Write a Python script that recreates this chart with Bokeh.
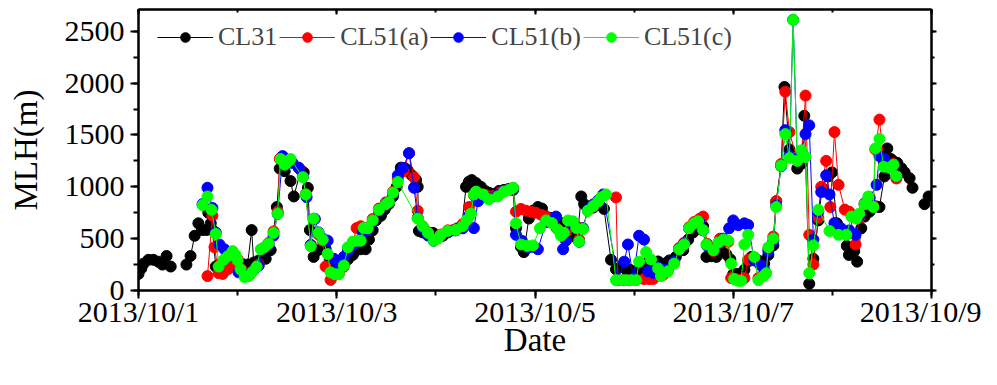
import numpy as np
from bokeh.plotting import figure
from bokeh.models import Range1d, FixedTicker, LinearAxis
from bokeh.embed import file_html
from bokeh.resources import INLINE

# x: hours since 2013/10/1 00:00 ; y: MLH (m). None = gap in record
cl31_hours = [0, 0.7, 1.2, 2.4, 3.6, 4.8, 5.8, 6.8, 7.8, 9.5,
              11.6, 12.6, 13.6, 14.5, 15.5, 16.5, 16.9, 17.5, 17.9, 18.7, 19.6, 20.8, 21.8, 23.5, 25, 26.4,
              27.4, 27.9, 29.1, 30.8, 32, 33.5, 34.2, 35.4, 36.8, 37.6, 39.3, 40, 41, 41.5, 42.4, 43.4, 44.4,
              45.3, 46.3, 47.3, 48.5, 49.5, 50.7, 51.9, 52.8, 53.8, 55, 55.8, 56.7, 57.5, 58.7, 59.6, 60.6,
              61.6, 62.5, 63.5, 64.5, 65.2, 66.2, 67.2, 67.6, 67.9, 68.8, 70.1, 71.3, 72.5, 73.7, 74.9, 76.1,
              77.3, 78.3, 79.3, 80, 80.7, 81.7, 82.9, 83.9, 84.8, 86, 87.3, 88.5, 89.7, 90.7, 91.4, 92.6, 93.3,
              94.5, 95.5, 96.7, 97.7, 98.7, 99.9, 101.1, 102.3, 103.5, 104.5, 105.2, 106.2, 107.2, 107.9, 108.8,
              110.1, 111.3, 112.7, 114.4, 115.6, 116.8, 118, 119, 120, 121, 121.9, 122.9, 123.6, 124.6, 125.8,
              127.3, 128.5, 130.1, 131.9, 133.1, 134.3, 135.5, 136.7, 137.5, 138.7, 139.9, 141.1, 142.3, 143.3,
              144, 144.7, 145.5, 146.7, 147.6, 148.4, 149.6, 150.8, 151.5, 152.5, 153.7, 154.4, 155.6, 156.4,
              157.6, 159.5, 160.5, 161.2, 162.4, 163.4, 164.6, 165.5, 167, 167.9, 169.1, 170.3, 171.5, 172,
              173.3, 174, 175, 175.8, 177, 177.7, 178.7, 179.4, 180.6, 181.3, 182.2, 183, 183.7, 184.7, 185.5,
              186.7, 187.4, 189, 190.3, 191.3]
cl31_mlh = [160, 213, 259, 296, 296, 278, 250, 333, 231, None,
            250, 333, 528, 648, 583, 583, 750, 648, 583, 231, 250, 260, 231, 250, 259, 250,
            583, 270, 290, 306, 389, 805, 1176, 1150, 1056, 907, 1160, 1139, 990, 583, 324, 389, 398,
            398, 300, 213, 250, 250, 300, 343, 389, 398, 398, 491, 580, 676, 720, 780, 833,
            907, 1000, 1185, 1180, 1157, 1110, 1065, 1000, 574, 560, 560, 555, 528, 528, 560, 580,
            600, 620, 1000, 1050, 1065, 1037, 1000, 960, 944, 930, 960, 970, 980, 970, 600, 420, 370,
            694, 770, 805, 790, 713, 700, 690, 650, 600, 580, 555, 500, 907, 833, 790,
            800, 830, 787, 296, 204, 230, 204, 200, 167, 180, 200, 230, 280, 250, 280,
            259, 290, 324, 389, 491, 560, 600, 620, 324, 330, 324, 380, 350, 300,
            157, 160, 157, 200, 280, 324, 300, 280, 259, 343, 435, 861, 1204, 1963,
            1361, 1176, 1222, 1685, 65, 306, 676, 991, 1100, 1139, 648, 560, 430, 343,
            380, 278, 600, 713, 760, 805, 810, 805, 1100, 1370, 1268, 1240, 1231, 1180, 1139,
            1083, 991, None, 833, 907]

cl51a_hours = [16.7, 17.9, 18.4, 19.4, 20.4, 21.6, 22.8, 24, 25, 25.9, 26.9, 27.9, 29.1, 30.1, 31.5, 32.7,
               33.7, 34.2, 35.4, 36.8, 38.8, 39.8, 40.5, 41.7, 42.4, 43.6, 44.6, 45.3, 46.5, 47.5, 48.5,
               49.7, 50.7, 51.9, 52.8, 53.8, 55, 56.7, 58.2, 59.9, 61.6, 62.8, 64.2, 65.5, 66.7, 67.6,
               68.8, 70.1, 71.5, 73.2, 74.9, 76.8, 78.5, 80, 81.2, 82.4, 84.1, 85.8, 87.8, 89.7, 90.7,
               91.4, 92.6, 93.8, 95, 96.2, 97.5, 98.7, 99.9, 101.3, 102.3, 103.5, 104.7, 106, 106.7,
               107.6, 108.8, 110.1, 111.3, 112.7, 115.6, 116.1, 117.3, 118.8, 120.5, 122.4, 123.6, 124.6,
               125.8, 127, 128.2, 129.7, 130.9, 132.1, 133.3, 134.5, 135.8, 136.7, 137.7, 139.2, 140.8,
               141.6, 142.8, 143.5, 144.7, 146.7, 147.6, 149.1, 150.1, 151.5, 152.5, 153.7, 154.4, 155.6,
               156.6, 157.6, 159.5, 160.5, 161.5, 162.4, 163.4, 164.6, 165.3, 166.5, 167.5, 168.5, 169.5,
               171, 172.1, 173.6, 174.5, 175.8, 177, 177.9, 178.4, 179.4, 180.4, 181.8, 182.8, 183.5]
cl51a_mlh = [139, 722, 417, 167, 160, 204, 250, 300, 200, 160, 150, 200, 250, 400, 460, 570,
             760, 1270, 1230, 1250, 1180, 1100, 930, 440, 690, 540, 480, 231, 102, 150, 160,
             230, 400, 460, 602, 620, 600, 690, 790, 850, 950, 1080, 1150, 1324, 1093, 769,
             620, 560, 500, 540, 580, 590, 640, 805, 920, 940, 920, 910, 950, 980, 990,
             760, 787, 770, 760, 750, 730, 713, 690, 600, 540, 560, 660, 620, 490,
             600, 770, 810, 860, 920, 898, 100, 100, 100, 100, 111, 111, 111,
             200, 150, 190, 270, 410, 460, 610, 660, 690, 713, 450, 380, 500,
             480, 470, 120, 110, 120, 296, 300, 120, 150, 400, 520, 861, 1220,
             1917, 1528, 1260, 1300, 1880, 537, 250, 700, 1000, 1250, 805, 1528, 1019,
             780, 759, 444, 700, 830, 900, 820, 1360, 1648, 1250, 1200, 1220, 1080]

cl51b_hours = [15.5, 16.7, 17.9, 18.7, 19.6, 20.8, 21.8, 23, 24.2, 25.5, 26.7, 27.9, 29.1, 30.1, 31.5, 32.7,
               33.7, 34.9, 36.1, 37.3, 38.8, 39.8, 40.7, 41.7, 42.7, 43.6, 44.6, 45.8, 47.3, 48.5, 49.7,
               50.7, 51.9, 53.1, 54.3, 55.5, 56.7, 58.2, 59.9, 61.6, 62.8, 64, 65.5, 66.7, 67.6, 68.8,
               70.1, 71.5, 73.2, 74.9, 76.8, 78.5, 80, 81.2, 82.2, 83.4, 84.8, 87, 88.5, 89.7, 90.7,
               91.4, 92.8, 94.5, 95.7, 96.7, 98.7, 101.1, 102.3, 102.8, 103.5, 104.7, 106, 106.7, 107.6,
               108.8, 110.1, 111.3, 112.5, 116.1, 117.6, 118.5, 119.8, 121.2, 122.4, 123.4, 124.6, 125.8,
               127, 128.2, 129.7, 130.9, 132.1, 133.3, 134.5, 135.8, 136.7, 137.7, 139.2, 140.8, 141.6,
               143, 144, 145.2, 146.7, 147.6, 149.1, 150.5, 151.5, 152.5, 153.7, 154.4, 155.6, 156.6,
               157.6, 158.5, 159.5, 160.5, 161.5, 162.4, 163.4, 164.6, 165.3, 166.5, 167.3, 168.5, 170.1,
               172.1, 173.6, 174.5, 175.8, 177, 178.7, 179.4, 180.6, 181.8, 182.8, 183.5]
cl51b_mlh = [833, 991, 796, 560, 444, 398, 330, 330, 176, 160, 150, 200, 240, 400, 440, 530,
             740, 1296, 1250, 1230, 1185, 1100, 900, 440, 690, 560, 500, 481, 306, 250, 324,
             380, 440, 470, 560, 580, 660, 770, 840, 930, 1111, 1180, 1324, 991, 700, 600,
             530, 480, 530, 570, 580, 600, 720, 602, 861, 900, 890, 920, 960, 975, 985,
             537, 480, 417, 420, 398, 660, 713, 560, 398, 481, 650, 610, 470, 600,
             780, 830, 870, 926, 100, 278, 444, 120, 528, 491, 185, 170, 220,
             200, 200, 280, 400, 450, 600, 640, 660, 580, 430, 400, 470, 500,
             600, 676, 630, 648, 632, 290, 250, 200, 380, 480, 820, 1200, 1546,
             1300, 2611, 1260, 1340, 1509, 1593, 491, 760, 950, 1111, 926, 650, 600,
             580, 537, 720, 840, 890, 1019, 1296, 1268, 1200, 1210, 1100]

cl51c_hours = [15.5, 16.7, 17.7, 18.7, 19.4, 20.6, 21.6, 22.8, 23.5, 24, 24.7, 25.7, 26.7, 27.6, 28.6, 29.6,
               30.5, 31.5, 32.7, 33.7, 34.4, 35.4, 36.1, 36.8, 39.8, 40.5, 41.7, 42.4, 43.6, 44.6, 45.8,
               46.5, 47.5, 48.5, 49.7, 50.7, 51.9, 53.1, 53.8, 54.5, 55.5, 56.7, 58.2, 59.9, 60.6, 61.6,
               62.8, 67.6, 68.8, 70.1, 71.5, 72.5, 73.2, 74.9, 76.8, 78.5, 79.5, 80.5, 81.2, 81.7, 83.4,
               84.8, 87, 88.5, 89.7, 90.7, 91.4, 92.6, 94.1, 95.5, 97.2, 98.7, 100.1, 101.6, 102.3, 103,
               104, 105.2, 106, 106.7, 107.6, 108.8, 110.1, 111.3, 112, 113.2, 115.6, 116.8, 118, 119.3,
               120.5, 121.2, 122.9, 124.1, 125.8, 126.5, 128.2, 129.7, 130.9, 132.1, 133.3, 134.5, 135.5,
               136.7, 137.5, 139.2, 140.4, 141.6, 142.8, 143.5, 144.2, 145.2, 145.9, 146.7, 147.6, 149.1,
               150.1, 151.3, 152, 152.5, 153.7, 154.4, 155.6, 156.6, 157.6, 158.5, 159.5, 160.5, 161.5,
               162.4, 163.4, 164.6, 167.3, 169.5, 171.4, 172.6, 173.8, 174.5, 175.8, 176.7, 177.9, 178.4,
               179.4, 180.4, 181.8, 182.8, 183.5]
cl51c_mlh = [824, 907, 778, 546, 231, 296, 330, 380, 340, 290, 204, 130, 139, 180, 231, 398,
             420, 454, 555, 741, 1268, 1213, 1240, 1268, 1093, 926, 426, 694, 555, 491, 352,
             175, 157, 157, 241, 417, 472, 481, 481, 602, 600, 676, 778, 833, 852, 944,
             1046, 694, 620, 555, 481, 500, 537, 574, 583, 620, 680, 741, 926, 954, 926,
             880, 907, 954, 970, 991, 648, 444, 430, 435, 600, 676, 650, 583, 528, 555,
             676, 667, 602, 472, 593, 769, 815, 860, 898, 926, 100, 100, 100, 100,
             100, 278, 370, 300, 213, 139, 185, 259, 398, 444, 602, 648, 667,
             583, 444, 389, 463, 491, 481, 259, 111, 93, 93, 444, 537, 324,
             100, 139, 167, 417, 500, 805, 1204, 1509, 1278, 2611, 1250, 1352, 1287,
             167, 435, 778, 574, 537, 537, 713, 694, 741, 833, 907, 805, 1370,
             1463, 1194, 1185, 1213, 1102]

series_names = ["CL31", "CL51(a)", "CL51(b)", "CL51(c)"]
series_colors = ["black", "#FF0000", "#0000FF", "#00FF00"]
series_hours = [cl31_hours, cl51a_hours, cl51b_hours, cl51c_hours]
series_mlh = [cl31_mlh, cl51a_mlh, cl51b_mlh, cl51c_mlh]

tick_days = [0, 2, 4, 6, 8]
tick_labels = ["2013/10/1", "2013/10/3", "2013/10/5", "2013/10/7", "2013/10/9"]
y_ticks = [0, 500, 1000, 1500, 2000, 2500]

FONT = "Liberation Serif"

p = figure(width=981, height=369, output_backend="svg", toolbar_location=None,
           x_range=Range1d(0, 8), y_range=Range1d(0, 2710),
           min_border_left=138, min_border_right=50, min_border_top=9, min_border_bottom=79,
           x_axis_label="Date", y_axis_label="MLH(m)")
p.grid.visible = False
p.outline_line_color = "black"
p.outline_line_width = 2
p.background_fill_color = "white"

for name, col, hrs, vals in zip(series_names, series_colors, series_hours, series_mlh):
    d = np.array(hrs, dtype=float) / 24.0
    v = np.array(vals, dtype=float)
    p.line(d, v, line_color=col, line_width=1, legend_label=name)
    p.scatter(d, v, size=11, fill_color=col, line_color=col, legend_label=name)

xa = p.xaxis[0]
xa.ticker = FixedTicker(ticks=tick_days, minor_ticks=list(range(0, 9)))
xa.major_label_overrides = {t: lab for t, lab in zip(tick_days, tick_labels)}
ya = p.yaxis[0]
ya.ticker = FixedTicker(ticks=y_ticks, minor_ticks=list(range(0, 2751, 250)))

for ax in (xa, ya):
    ax.axis_line_width = 2
    ax.major_tick_line_width = 2
    ax.minor_tick_line_width = 2
    ax.major_tick_out = 8
    ax.major_tick_in = 0
    ax.minor_tick_out = 5
    ax.minor_tick_in = 0
    ax.major_label_text_font = FONT
    ax.major_label_text_font_size = "30px"
    ax.major_label_text_color = "black"
    ax.axis_label_text_font = FONT
    ax.axis_label_text_font_size = "33px"
    ax.axis_label_text_font_style = "normal"
    ax.axis_label_text_color = "black"

xa.major_label_standoff = -4
xa.axis_label_standoff = -9
ya.major_label_standoff = 6
ya.axis_label_standoff = 18

top = LinearAxis(ticker=FixedTicker(ticks=tick_days, minor_ticks=list(range(0, 9))),
                 major_label_text_font_size="0px", major_tick_out=0, major_tick_in=5,
                 minor_tick_out=0, minor_tick_in=3, axis_line_width=2,
                 major_tick_line_width=2, minor_tick_line_width=2, major_label_standoff=0)
right = LinearAxis(ticker=FixedTicker(ticks=y_ticks, minor_ticks=list(range(0, 2751, 250))),
                   major_label_text_font_size="0px", major_tick_out=5, major_tick_in=0,
                   minor_tick_out=3, minor_tick_in=0, axis_line_width=2,
                   major_tick_line_width=2, minor_tick_line_width=2, major_label_standoff=0)
p.add_layout(top, "above")
p.add_layout(right, "right")

lg = p.legend[0]
lg.orientation = "horizontal"
lg.location = (19, 238)
lg.background_fill_alpha = 0
lg.border_line_alpha = 0
lg.label_text_font = FONT
lg.label_text_font_size = "26px"
lg.glyph_width = 56
lg.glyph_height = 24
lg.label_standoff = 5
lg.spacing = 2
lg.padding = 0
lg.margin = 0

open("out.html", "w").write(file_html(p, INLINE))
